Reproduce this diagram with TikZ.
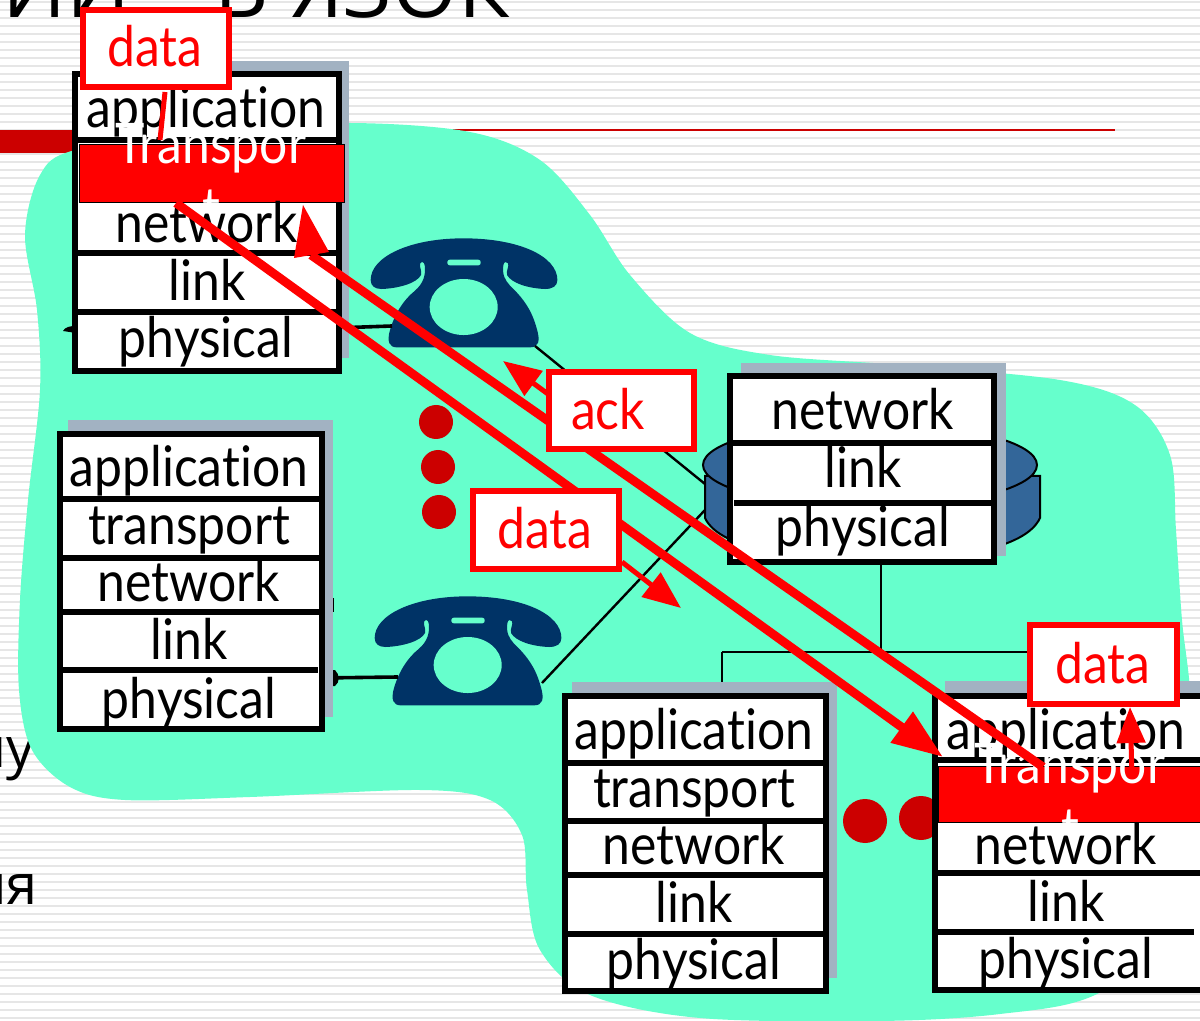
\documentclass[tikz,border=0pt]{standalone}
\usepackage{fontspec}
\setmainfont{Open Sans}
\newfontfamily\comicf[FakeStretch=0.89,Ligatures=NoCommon]{Lato}
\usetikzlibrary{arrows.meta}
\definecolor{cloudc}{HTML}{66FFCC}
\definecolor{stripec}{HTML}{E6E6E6}
\definecolor{shadowc}{HTML}{A2B2C2}
\definecolor{phonec}{HTML}{003366}
\definecolor{discc}{HTML}{336699}
\definecolor{dotc}{HTML}{CC0000}
\definecolor{pure}{HTML}{FF0000}
\tikzset{
  boxbase/.style={rectangle,inner sep=0pt,outer sep=0pt},
  layerbox/.style={boxbase,draw=black,fill=white,line width=3pt},
  shadowbox/.style={boxbase,fill=shadowc},
  sepline/.style={black,line width=3pt},
  thinwire/.style={black,line width=1.2pt},
  wire/.style={black,line width=1.8pt},
  layertxt/.style={font=\comicf\fontsize{28}{28}\selectfont,anchor=base,inner sep=0pt,text=black},
  transtxt/.style={layertxt,text=white},
  redbox/.style={boxbase,draw=pure,fill=white,line width=3pt},
  redtxt/.style={layertxt,text=pure},
  transbox/.style={boxbase,draw=black,fill=pure,line width=.5pt},
  bigred/.style={pure,line width=4.4pt},
  smallred/.style={pure,line width=2.5pt},
  reddot/.style={circle,fill=dotc,inner sep=0pt,outer sep=0pt},
  titletxt/.style={font=\fontsize{42}{42}\selectfont,inner sep=0pt,text=black},
  bodytxt/.style={font=\fontsize{28}{28}\selectfont,inner sep=0pt,text=black,anchor=base east},
  phone/.pic={
    \begin{scope}[x=0.1667pt,y=-0.1667pt]
    \fill[phonec] (32,180) .. controls (32,110) and (150,55) .. (310,55)
      .. controls (480,55) and (592,110) .. (592,180)
      .. controls (592,198) and (578,207) .. (555,207)
      .. controls (505,205) and (455,190) .. (441,165)
      .. controls (438,150) and (448,140) .. (444,130)
      .. controls (440,124) and (432,124) .. (430,135)
      .. controls (426,165) and (435,180) .. (450,197)
      .. controls (490,235) and (515,270) .. (530,325)
      .. controls (542,365) and (535,382) .. (510,382)
      -- (110,382)
      .. controls (88,382) and (80,365) .. (90,330)
      .. controls (105,280) and (130,240) .. (165,212)
      .. controls (190,190) and (198,165) .. (194,135)
      .. controls (192,124) and (182,124) .. (180,132)
      .. controls (178,142) and (186,150) .. (183,165)
      .. controls (170,190) and (115,205) .. (65,207)
      .. controls (45,207) and (32,198) .. (32,180) -- cycle;
    \fill[cloudc] (311,261) ellipse [x radius=102,y radius=84];
    \fill[cloudc,rounded corners=1.2pt] (262,119) rectangle (362,136);
    \end{scope}
  }
}
% #1 name, #2..#5 x1,y1,x2,y2, #6 style
\newcommand{\rbox}[6]{\node[#6,minimum width={(#4-#2)*0.5pt},minimum height={(#5-#3)*0.5pt}] (#1) at ({(#2+#4)/2},{(#3+#5)/2}) {};}
\begin{document}
\begin{tikzpicture}[x=0.5pt,y=-0.5pt]
\useasboundingbox (0,0) rectangle (1200,1021);
\clip (0,0) rectangle (1200,1021);
\fill[white] (0,0) rectangle (1200,1021);
\foreach \yy in {2,10,...,1018} \fill[stripec] (0,\yy-1) rectangle (1200,\yy+1);

% slide remnants
\node[titletxt,anchor=base west] (tA) at (2,18) {ИИ};
\node[titletxt,anchor=base east] (tB) at (510,18) {В ЯЗОК};
\node[bodytxt] (bA) at (35,767) {му};
\node[bodytxt] (bB) at (38,904) {ия};
\fill[dotc] (0,130) rectangle (80,153);
\fill[dotc] (300,129.2) rectangle (1115,131);

% cloud
\fill[cloudc] plot[smooth cycle,tension=0.55] coordinates {
 (75,150) (200,130) (350,123) (470,132) (540,160) (590,215) (630,275) (690,333) (770,355)
 (900,365) (1060,380) (1135,405) (1170,455) (1176,530) (1182,620) (1190,690) (1195,800) (1180,930)
 (1095,995) (1000,1014) (880,1021) (700,1018) (590,995) (540,950) (527,890) (522,835) (490,800) (420,790)
 (250,797) (125,800) (70,787) (32,750) (19,690) (20,600) (28,500) (40,390) (37,310) (25,235) (40,175)
};

% disc
\fill[discc,draw=black,line width=1pt] (705,476) -- (705,518) .. controls (720,550) and (800,560) .. (872,560)
  .. controls (950,560) and (1025,550) .. (1040,518) -- (1040,476) -- cycle;
\draw[black,fill=discc,line width=1pt] (870,465) ellipse [x radius=167,y radius=42];

% phones
\pic (ph1) at (360,220) {phone};
\pic (ph2) at (364,578) {phone};

% named ends of the wires
\coordinate (w1a) at (335,328); \coordinate (w1b) at (392,326);
\coordinate (w2a) at (535,346); \coordinate (w2b) at (705,484);
\coordinate (w3a) at (320,678); \coordinate (w3b) at (398,677);
\coordinate (w4a) at (542,683); \coordinate (w4b) at (705,510);
\coordinate (w5a) at (881,560); \coordinate (w5b) at (881,652);
\coordinate (w6a) at (722,652); \coordinate (w6b) at (1035,652);
\coordinate (w7b) at (722,690);
\draw[wire] (w1a) -- (w1b);
\draw[thinwire] (w2a) -- (w2b);
\draw[wire] (w3a) -- (w3b);
\draw[thinwire] (w4a) -- (w4b);
\draw[thinwire] (w5a) -- (w5b);
\draw[thinwire] (w6a) -- (w6b);
\draw[thinwire] (w6a) -- (w7b);
\fill[black] (63,331) .. controls (65,327) and (70,326) .. (76,326) -- (76,333) -- cycle;
\fill[black] (335,670) .. controls (340,675) and (340,682) .. (335,686) -- (325,686) -- (325,670) -- cycle;
\fill[black] (330,598) rectangle (334,612);

% dots
\node[reddot,minimum size=34*0.5pt] (d1) at (436,422) {};
\node[reddot,minimum size=34*0.5pt] (d2) at (438,467) {};
\node[reddot,minimum size=34*0.5pt] (d3) at (439,512) {};
\node[reddot,minimum size=44*0.5pt] (d4) at (865,821) {};
\node[reddot,minimum size=44*0.5pt] (d5) at (921,818) {};

% stack 1
\rbox{sh1}{85}{61}{349}{358}{shadowbox}
\rbox{st1}{75}{74}{339}{371}{layerbox}
\draw[sepline] (st1.west |- 0,140) -- (st1.east |- 0,140);
\draw[sepline] (st1.west |- 0,253) -- (st1.east |- 0,253);
\draw[sepline] (st1.west |- 0,312) -- (st1.east |- 0,312);
\node[layertxt] (s1a) at (206,128) {application};
\node[layertxt] (s1l) at (207,301) {link};
\node[layertxt] (s1p) at (206,358) {physical};
\rbox{tr1}{79}{145}{344}{203}{transbox}
\node[transtxt] (t1a) at (211,164) {Transpor};
\node[transtxt] (t1b) at (211,228) {t};
\node[layertxt] (s1n) at (207,243) {network};

% stack 2
\rbox{sh2}{68}{420}{333}{717}{shadowbox}
\rbox{st2}{60}{434}{322}{729}{layerbox}
\draw[sepline] (60,499) -- (319,499);
\draw[sepline] (60,558) -- (322,558);
\draw[sepline] (60,612) -- (322,612);
\draw[sepline] (60,670) -- (318,670);
\node[layertxt] (s2a) at (189,487) {application};
\node[layertxt] (s2t) at (189,545) {transport};
\node[layertxt] (s2n) at (189,602) {network};
\node[layertxt] (s2l) at (189,659) {link};
\node[layertxt] (s2p) at (189,718) {physical};

% stack 3
\rbox{sh3}{741}{363}{1006}{556}{shadowbox}
\rbox{st3}{730}{376}{994}{562}{layerbox}
\draw[sepline] (730,443) -- (994,443);
\draw[sepline] (734,503) -- (994,503);
\node[layertxt] (s3n) at (863,430) {network};
\node[layertxt] (s3l) at (863,488) {link};
\node[layertxt] (s3p) at (863,546) {physical};

% stack 4
\rbox{sh4}{572}{682}{837}{978}{shadowbox}
\rbox{st4}{565}{696}{826}{991}{layerbox}
\draw[sepline] (565,763) -- (823,763);
\draw[sepline] (565,821) -- (826,821);
\draw[sepline] (565,875) -- (826,875);
\draw[sepline] (565,934) -- (823,934);
\node[layertxt] (s4a) at (694,749) {application};
\node[layertxt] (s4t) at (694,807) {transport};
\node[layertxt] (s4n) at (694,864) {network};
\node[layertxt] (s4l) at (694,922) {link};
\node[layertxt] (s4p) at (694,979) {physical};

% stack 5
\rbox{sh5}{945}{681}{1230}{978}{shadowbox}
\rbox{st5}{935}{696}{1216}{990}{layerbox}
\draw[sepline] (935,760) -- (1200,760);
\draw[sepline] (935,873) -- (1200,873);
\draw[sepline] (935,932) -- (1194,932);
\node[layertxt] (s5a) at (1066,749) {application};
\node[layertxt] (s5l) at (1066,921) {link};
\node[layertxt] (s5p) at (1066,978) {physical};
\rbox{tr5}{938}{766}{1230}{822}{transbox}
\node[transtxt] (t5a) at (1070,783) {Transpor};
\node[transtxt] (t5b) at (1070,847) {t};
\node[layertxt] (s5n) at (1066,864) {network};

% red connectors
\coordinate (aS) at (1043,767); \coordinate (aE) at (311,255);
\coordinate (aT) at (303,205);  \coordinate (aL) at (294,258); \coordinate (aR) at (329,252);
\coordinate (bS) at (176,203);  \coordinate (bT) at (943,757);
\coordinate (cS) at (165,92);   \coordinate (cT) at (160,140);
\coordinate (dS) at (548,394);  \coordinate (dT) at (503,361);
\coordinate (eS) at (622,562);  \coordinate (eT) at (681,608);
\coordinate (fS) at (1132,775); \coordinate (fT) at (1130,707);
\draw[bigred] (aS) -- (aE);
\fill[pure] (aT) -- (aL) -- (aR) -- cycle;
\draw[bigred,-{Triangle[length=25.5pt,width=18pt]}] (bS) -- (bT);
\draw[smallred] (cS) -- (cT);
\draw[smallred,-{Triangle[length=19pt,width=15pt]}] (dS) -- (dT);
\draw[smallred,-{Triangle[length=19pt,width=15pt]}] (eS) -- (eT);
\draw[smallred,-{Triangle[length=18pt,width=14pt]}] (fS) -- (fT);

% data / ack boxes
\rbox{db1}{83}{10}{229}{87}{redbox}
\node[redtxt] (db1t) at (155,67) {data};
\rbox{ab}{549}{372}{694}{449}{redbox}
\node[redtxt] (abt) at (608,430) {ack};
\rbox{db2}{473}{491}{619}{569}{redbox}
\node[redtxt] (db2t) at (545,549) {data};
\rbox{db3}{1030}{625}{1177}{704}{redbox}
\node[redtxt] (db3t) at (1103,683) {data};
\end{tikzpicture}
\end{document}
